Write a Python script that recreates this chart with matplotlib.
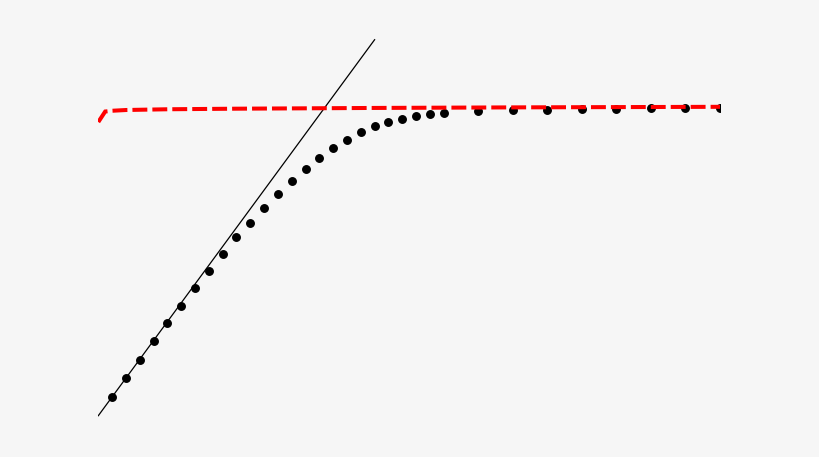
#!/usr/bin/env python3
"""Saturation curve: measured points, initial slope line and plateau estimate."""

import matplotlib

matplotlib.use("Agg")
import matplotlib.pyplot as plt  # noqa: E402

# Measured points (dots)
dot_x = [1, 2, 3, 4, 5, 6, 7, 8, 9, 10, 11, 12, 13, 14, 15, 16, 17, 18, 19, 20,
         21, 22, 23, 24, 25, 27.5, 30, 32.5, 35, 37.5, 40, 42.5, 45]
dot_y = [0.98, 1.99, 2.96, 3.96, 4.91, 5.85, 6.79, 7.71, 8.60, 9.48,
         10.27, 11.06, 11.79, 12.50, 13.12, 13.71, 14.24, 14.68, 15.09, 15.41,
         15.62, 15.78, 15.93, 16.03, 16.09, 16.20, 16.24, 16.28, 16.31, 16.33,
         16.35, 16.38, 16.38]

# Initial slope (thin black line)
line_x = [0, 20]
line_y = [0, 20]

# Plateau estimate (red dashed)
plateau_x = [0, 0.5, 1, 2, 5, 10, 20, 30, 45]
plateau_y = [15.62, 16.18, 16.22, 16.26, 16.30, 16.33, 16.37, 16.40, 16.43]

BG = "#f6f6f6"

fig = plt.figure(figsize=(8.2, 4.57), dpi=100, facecolor=BG)
ax = fig.add_axes([98.3 / 820, 0, (720 - 98.3) / 820, 1])
ax.set_facecolor(BG)

ax.plot(line_x, line_y, color="black", linewidth=0.9, zorder=2)
ax.plot(dot_x, dot_y, linestyle="none", marker="o", markersize=5.4,
        color="black", zorder=3)
ax.plot(plateau_x, plateau_y, color="#ff0000", linestyle="--",
        linewidth=2.9, dashes=(3.7, 1.25), solid_joinstyle="miter",
        dash_joinstyle="miter", zorder=4)

ax.set_xlim(0, 45)
ax.set_ylim((415.7 - 457) / 18.8, 415.7 / 18.8)
ax.axis("off")

fig.savefig("out.png", dpi=100, facecolor=BG)
